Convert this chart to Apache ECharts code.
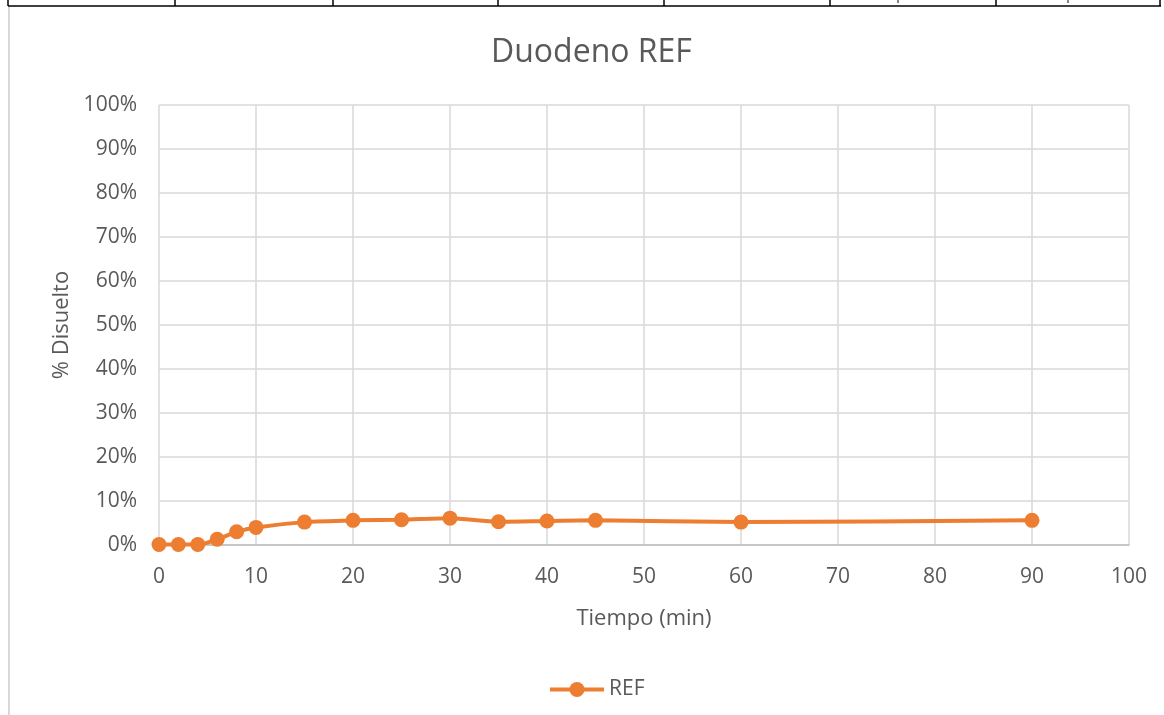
<!DOCTYPE html>
<html>
<head>
<meta charset="utf-8">
<script src="https://cdn.jsdelivr.net/npm/echarts@6/dist/echarts.min.js"></script>
<style>
  html, body { margin: 0; padding: 0; background: #ffffff; }
  #chart { width: 1164px; height: 715px; }
</style>
</head>
<body>
<div id="chart"></div>
<script>
// Dissolution profile, duodenal medium, REF product
const tiempos = [0, 2, 4, 6, 8, 10, 15, 20, 25, 30, 35, 40, 45, 60, 90];
const disueltoRef = [0.1, 0.1, 0.1, 1.3, 3.0, 4.0, 5.2, 5.6, 5.75, 6.1, 5.3, 5.45, 5.6, 5.2, 5.6];
const xTicks = { min: 0, max: 100, step: 10 };
const yTicks = { min: 0, max: 100, step: 10 };

const FONT = '"Open Sans", Lato, sans-serif';
const TEXT = '#595959';
const ORANGE = '#ED7D31';

// Cell borders of the table row sitting above the chart
const cellEdges = [8, 175, 333, 498, 664, 830, 996, 1160];
const tableShapes = [
  { type: 'line', shape: { x1: 8, y1: 6, x2: 1161, y2: 6 }, style: { stroke: '#000', lineWidth: 1.5 } },
  { type: 'line', shape: { x1: 9, y1: 7, x2: 9, y2: 715 }, style: { stroke: '#d9d9d9', lineWidth: 2 } }
].concat(cellEdges.map(x => ({
  type: 'line', shape: { x1: x, y1: 0, x2: x, y2: 6 }, style: { stroke: '#000', lineWidth: 1.5 }
}))).concat([898, 1068].map(x => ({
  type: 'line', shape: { x1: x, y1: 0, x2: x, y2: 3 }, style: { stroke: '#333', lineWidth: 1.2 }
})));

const chart = echarts.init(document.getElementById('chart'));
chart.setOption({
  animation: false,
  backgroundColor: '#ffffff',
  title: {
    text: 'Duodeno REF',
    left: 486,
    top: 32,
    textStyle: { fontFamily: FONT, fontSize: 32, fontWeight: 'normal', color: TEXT }
  },
  legend: {
    bottom: 10,
    left: 543,
    itemWidth: 54,
    itemHeight: 19,
    itemGap: 5,
    lineStyle: { width: 4 },
    textStyle: { fontFamily: FONT, fontSize: 21, color: TEXT },
    data: ['REF']
  },
  grid: { left: 159, right: 35, top: 105, bottom: 170, containLabel: false },
  xAxis: {
    type: 'value',
    min: xTicks.min,
    max: xTicks.max,
    interval: xTicks.step,
    name: 'Tiempo (min)',
    nameLocation: 'middle',
    nameGap: 63,
    nameTextStyle: { fontFamily: FONT, fontSize: 22, color: TEXT },
    axisLine: { show: true, lineStyle: { color: '#bfbfbf', width: 1.5 } },
    axisTick: { show: false },
    axisLabel: { fontFamily: FONT, fontSize: 21, color: TEXT, margin: 22 },
    splitLine: { show: true, lineStyle: { color: '#d9d9d9', width: 1.5 } }
  },
  yAxis: {
    type: 'value',
    min: yTicks.min,
    max: yTicks.max,
    interval: yTicks.step,
    name: '% Disuelto',
    nameLocation: 'middle',
    nameRotate: 90,
    nameGap: 86,
    nameTextStyle: { fontFamily: FONT, fontSize: 22, color: TEXT },
    axisLine: { show: false },
    axisTick: { show: false },
    axisLabel: { fontFamily: FONT, fontSize: 21, color: TEXT, margin: 22, formatter: '{value}%' },
    splitLine: { show: true, lineStyle: { color: '#d9d9d9', width: 1.5 } }
  },
  series: [{
    name: 'REF',
    type: 'line',
    data: tiempos.map((t, i) => [t, disueltoRef[i]]),
    smooth: 0.25,
    symbol: 'circle',
    symbolSize: 15,
    color: ORANGE,
    lineStyle: { color: ORANGE, width: 4 },
    itemStyle: { color: ORANGE }
  }],
  graphic: tableShapes
});
</script>
</body>
</html>
